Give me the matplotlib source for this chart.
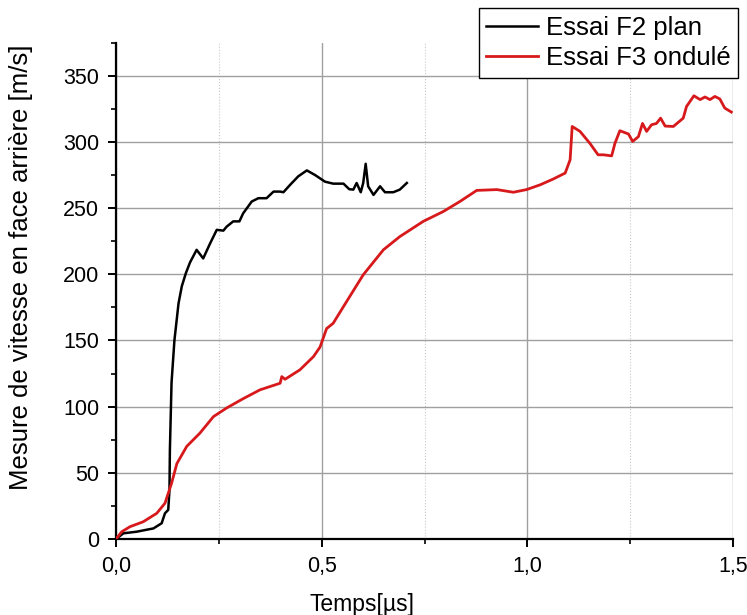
import matplotlib
matplotlib.use("Agg")
import matplotlib.pyplot as plt
from matplotlib.ticker import MultipleLocator, FuncFormatter

plt.rcParams['font.family'] = ['Liberation Sans', 'DejaVu Sans']

# Essai F2 plan (black)
f2_t = [0.0, 0.018, 0.050, 0.091, 0.111, 0.119, 0.127, 0.130, 0.131, 0.135, 0.142,
        0.152, 0.160, 0.170, 0.180, 0.196, 0.212, 0.229, 0.245, 0.261, 0.269, 0.285,
        0.300, 0.309, 0.330, 0.346, 0.366, 0.383, 0.399, 0.407, 0.423, 0.443, 0.464,
        0.484, 0.508, 0.528, 0.553, 0.567, 0.577, 0.585, 0.595, 0.601, 0.607, 0.613,
        0.626, 0.642, 0.654, 0.674, 0.690, 0.707]
f2_v = [0.0, 4.3, 5.5, 8.0, 11.9, 19.4, 22.0, 37.0, 67.0, 118.0, 150.0,
        178.0, 191.0, 201.0, 209.0, 218.5, 212.0, 223.5, 233.6, 233.0, 236.0, 240.0,
        240.0, 246.0, 255.0, 257.5, 257.5, 262.5, 262.5, 262.0, 267.5, 274.0, 278.5,
        275.0, 270.0, 268.5, 268.5, 264.3, 264.0, 269.0, 262.0, 269.0, 283.5, 266.5,
        260.0, 266.5, 262.0, 262.0, 264.0, 269.0]

# Essai F3 ondulé (red)
f3_t = [0.0, 0.014, 0.034, 0.066, 0.099, 0.119, 0.135, 0.148, 0.172, 0.204, 0.237,
        0.269, 0.309, 0.350, 0.399, 0.403, 0.411, 0.447, 0.480, 0.496, 0.512, 0.528,
        0.553, 0.601, 0.650, 0.690, 0.747, 0.796, 0.836, 0.877, 0.926, 0.966, 0.998,
        1.031, 1.063, 1.092, 1.104, 1.109, 1.128, 1.152, 1.172, 1.185, 1.205, 1.213,
        1.225, 1.246, 1.256, 1.270, 1.280, 1.290, 1.302, 1.314, 1.324, 1.335, 1.355,
        1.379, 1.387, 1.405, 1.420, 1.432, 1.444, 1.456, 1.468, 1.480, 1.496]
f3_v = [0.0, 5.5, 9.3, 13.0, 19.4, 27.0, 42.0, 57.0, 70.0, 80.0, 92.5,
        99.0, 106.0, 112.7, 117.7, 122.7, 120.7, 127.8, 137.8, 145.0, 159.0, 163.0,
        175.6, 199.6, 218.5, 228.5, 240.0, 247.5, 255.0, 263.4, 264.0, 262.0, 264.0,
        267.6, 272.0, 276.5, 286.5, 311.7, 308.0, 299.0, 290.3, 290.3, 289.5, 299.0,
        308.5, 306.0, 300.4, 304.0, 314.0, 308.0, 313.0, 314.0, 318.0, 312.0, 311.7,
        318.0, 326.8, 334.9, 332.0, 334.0, 332.0, 334.4, 332.5, 325.6, 322.6]

labels = ["Essai F2 plan", "Essai F3 ondulé"]
x_label = "Temps[µs]"
y_label = "Mesure de vitesse en face arrière [m/s]"

fig = plt.figure(figsize=(7.47, 6.15), dpi=100)
ax = fig.add_axes([116/747, 1 - 539/615, (733-116)/747, (539-42.7)/615])

ax.plot(f2_t, f2_v, color='black', lw=1.8, label=labels[0], zorder=3,
        solid_joinstyle='round')
ax.plot(f3_t, f3_v, color='#d7191c', lw=2.0, label=labels[1], zorder=3,
        solid_joinstyle='round')

ax.set_xlim(0, 1.5)
ax.set_ylim(0, 375)
ax.xaxis.set_major_locator(MultipleLocator(0.5))
ax.xaxis.set_minor_locator(MultipleLocator(0.25))
ax.yaxis.set_major_locator(MultipleLocator(50))
ax.yaxis.set_minor_locator(MultipleLocator(25))
ax.xaxis.set_major_formatter(FuncFormatter(lambda v, p: f"{v:.1f}".replace('.', ',')))

ax.grid(which='major', color='#a0a0a0', lw=1.0, ls='-')
ax.grid(which='minor', axis='x', color='#c8c8c8', lw=0.8, ls=':')
ax.set_axisbelow(True)

for s in ['top', 'right']:
    ax.spines[s].set_visible(False)
for s in ['left', 'bottom']:
    ax.spines[s].set_linewidth(1.6)

ax.tick_params(which='major', direction='out', length=6, width=1.4, labelsize=15.5, pad=6)
ax.tick_params(which='minor', direction='out', length=3.5, width=1.2)

ax.set_xlabel(x_label, fontsize=16.5)
ax.set_ylabel(y_label, fontsize=18.5)
ax.xaxis.set_label_coords(0.398, -0.108)
ax.yaxis.set_label_coords(-0.135, 0.548)

leg = fig.legend(loc='upper right', bbox_to_anchor=(738/747, 1 - 8/615), fontsize=18.5,
                 frameon=True, fancybox=False, edgecolor='black', framealpha=1,
                 handlelength=2.0, handletextpad=0.3, labelspacing=0.25, borderpad=0.3,
                 borderaxespad=0)
leg.get_frame().set_linewidth(1.0)

fig.savefig('out.png', dpi=100)
